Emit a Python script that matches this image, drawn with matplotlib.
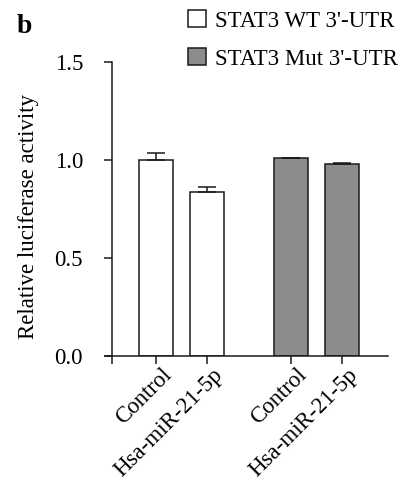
import numpy as np
import matplotlib.pyplot as plt
import matplotlib.transforms as mtransforms
from matplotlib.patches import Patch

plt.rcParams['font.family'] = ['Liberation Serif', 'DejaVu Serif']

# data
groups = ['STAT3 WT 3\'-UTR', 'STAT3 Mut 3\'-UTR']
conditions = ['Control', 'Hsa-miR-21-5p']
wt_vals = [1.00, 0.837]
wt_err = [0.034, 0.025]
mut_vals = [1.008, 0.980]
mut_err = [0.004, 0.005]
yticks = [0.0, 0.5, 1.0, 1.5]

fs = 16.5
pos_wt = np.array([0.0, 1.0])
pos_mut = pos_wt + 2.657
width = 0.667
yaxis_x = -0.863

fig = plt.figure(figsize=(4.0, 4.84), dpi=100)
ax = fig.add_axes([105/400, 128/484, 283/400, 294/484])

ax.bar(pos_wt, wt_vals, width, color='white', edgecolor='#1a1a1a', linewidth=1.1,
       yerr=[np.zeros(2), wt_err], error_kw=dict(ecolor='#1a1a1a', elinewidth=1.1, capsize=6.5, capthick=1.1),
       label=groups[0], zorder=2)
ax.bar(pos_mut, mut_vals, width, color='#8c8c8c', edgecolor='#1a1a1a', linewidth=1.1,
       yerr=[np.zeros(2), mut_err], error_kw=dict(ecolor='#1a1a1a', elinewidth=1.1, capsize=6.5, capthick=1.1),
       label=groups[1], zorder=2)

ax.set_xlim(-1.0, 4.55)
ax.set_ylim(0, 1.5)
ax.spines['top'].set_visible(False)
ax.spines['right'].set_visible(False)
ax.spines['left'].set_position(('data', yaxis_x))
ax.spines['left'].set_bounds(0, 1.5)
for s in ['left', 'bottom']:
    ax.spines[s].set_linewidth(1.1)
    ax.spines[s].set_color('#1a1a1a')

ax.tick_params(direction='out', length=5.8, width=1.1, color='#1a1a1a')
ax.tick_params(axis='x', pad=3)
ax.tick_params(axis='y', pad=15)
ax.set_yticks(yticks)
ax.set_yticklabels(['%.1f' % v for v in yticks], fontsize=fs)
ax.set_xticks([yaxis_x] + list(pos_wt) + list(pos_mut))
ax.set_xticklabels([''] + conditions + conditions, fontsize=fs, rotation=45,
                   ha='right', rotation_mode='anchor')
# nudge rotated labels right/up like the original
shift = mtransforms.ScaledTranslation(0.05, 0.04, fig.dpi_scale_trans)
for lab in ax.get_xticklabels():
    lab.set_transform(lab.get_transform() + shift)
ax.set_ylabel('Relative luciferase activity', fontsize=fs)
ax.yaxis.set_label_coords(-0.233, 0.473)

handles = [Patch(facecolor='white', edgecolor='#1a1a1a', linewidth=1.1),
           Patch(facecolor='#8c8c8c', edgecolor='#1a1a1a', linewidth=1.1)]
fig.legend(handles, groups, loc='upper left', bbox_to_anchor=(188/400, 1 - 10/484),
           frameon=False, fontsize=fs, handlelength=0.78, handleheight=0.78,
           handletextpad=0.4, labelspacing=0.72, borderpad=0, borderaxespad=0)

fig.text(17/400, 1 - 33/484, 'b', fontsize=20, fontweight='bold')

plt.savefig('out.png', dpi=100)
